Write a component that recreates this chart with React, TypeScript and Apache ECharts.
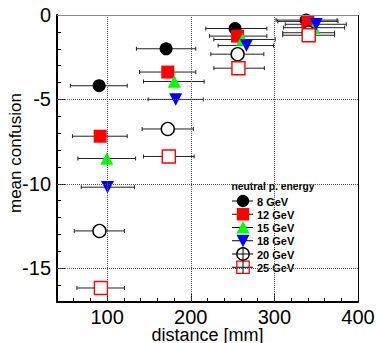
import React, { useEffect, useRef } from "react";
import * as echarts from "echarts";

// ---- data ----
const energies = ["8 GeV", "12 GeV", "15 GeV", "18 GeV", "20 GeV", "25 GeV"];

const dist8 = [90.4, 170.5, 253, 338];
const conf8 = [-4.19, -2.0, -0.8, -0.3];
const lo8 = [56, 135, 218, 302];
const hi8 = [124, 206, 291, 375];

const dist12 = [91.6, 172.5, 256, 340];
const conf12 = [-7.18, -3.38, -1.25, -0.38];
const lo12 = [58.5, 138.6, 222.5, 304];
const hi12 = [124, 206, 291, 376];

const dist15 = [99.6, 180.4, 262, 347];
const conf15 = [-8.5, -3.94, -1.45, -0.75];
const lo15 = [65, 143.4, 227.6, 311];
const hi15 = [134, 216, 301, 384];

const dist18 = [100.4, 182, 266.6, 350];
const conf18 = [-10.2, -5.0, -1.81, -0.55];
const lo18 = [69, 149, 232.7, 313];
const hi18 = [132.6, 215, 299, 386];

const dist20 = [90.8, 172.5, 256, 341];
const conf20 = [-12.79, -6.75, -2.32, -1.05];
const lo20 = [60.6, 141.8, 224, 310];
const hi20 = [120.7, 203, 287.4, 372];

const dist25 = [92.5, 173.7, 257, 341];
const conf25 = [-16.17, -8.38, -3.15, -1.2];
const lo25 = [63.8, 143.4, 227.6, 310];
const hi25 = [120.7, 204, 288, 372];

const xTickLabels = [100, 200, 300, 400];
const yTickLabels = [0, -5, -10, -15];
const xGridValues = [100, 200, 300];
const yGridValues = [-5, -10, -15];

const legendTitle = "neutral p. energy";
const xTitle = "distance [mm]";
const yTitle = "mean confusion";

// ---- styles ----
const FONT = "'Liberation Sans', Arial, sans-serif";
const markerStyles = [
  { symbol: "circle", rotate: 0, fill: "#000000", stroke: "#000000", open: false },
  { symbol: "rect", rotate: 0, fill: "#ff0000", stroke: "#ff0000", open: false },
  { symbol: "triangle", rotate: 0, fill: "#00ff00", stroke: "#00ff00", open: false },
  { symbol: "triangle", rotate: 180, fill: "#0000ff", stroke: "#0000ff", open: false },
  { symbol: "circle", rotate: 0, fill: "#ffffff", stroke: "#000000", open: true },
  { symbol: "rect", rotate: 0, fill: "#ffffff", stroke: "#ff0000", open: true },
];

const groups = [
  { x: dist8, y: conf8, lo: lo8, hi: hi8 },
  { x: dist12, y: conf12, lo: lo12, hi: hi12 },
  { x: dist15, y: conf15, lo: lo15, hi: hi15 },
  { x: dist18, y: conf18, lo: lo18, hi: hi18 },
  { x: dist20, y: conf20, lo: lo20, hi: hi20 },
  { x: dist25, y: conf25, lo: lo25, hi: hi25 },
];

function buildLegend(): any[] {
  const children: any[] = [];
  children.push({
    type: "rect",
    shape: { x: 227, y: 176, width: 116, height: 109 },
    style: { fill: "#ffffff" },
  });
  children.push({
    type: "text",
    x: 231.5,
    y: 186,
    style: {
      text: legendTitle,
      fontSize: 10.3,
      fontWeight: "bold",
      fontFamily: FONT,
      fill: "#000",
      align: "left",
      verticalAlign: "middle",
    },
  });
  energies.forEach((name, i) => {
    const yc = 201 + i * 13.25;
    const cx = 243;
    const s = markerStyles[i];
    const lineSt = { stroke: "#000", lineWidth: 1 };
    children.push({ type: "line", shape: { x1: 232, y1: yc, x2: 253, y2: yc }, style: lineSt });
    const mst = { fill: s.fill, stroke: s.stroke, lineWidth: s.open ? 1.3 : 0 };
    if (s.symbol === "circle") {
      children.push({ type: "circle", shape: { cx, cy: yc, r: 6.2 }, style: mst });
    } else if (s.symbol === "rect") {
      children.push({ type: "rect", shape: { x: cx - 6.2, y: yc - 6.2, width: 12.4, height: 12.4 }, style: mst });
    } else if (s.rotate === 0) {
      children.push({
        type: "polygon",
        shape: { points: [[cx, yc - 6.5], [cx + 6.5, yc + 6], [cx - 6.5, yc + 6]] },
        style: mst,
      });
    } else {
      children.push({
        type: "polygon",
        shape: { points: [[cx, yc + 6.5], [cx + 6.5, yc - 6], [cx - 6.5, yc - 6]] },
        style: mst,
      });
    }
    if (s.open) {
      children.push({ type: "line", shape: { x1: cx - 6, y1: yc, x2: cx + 6, y2: yc }, style: lineSt });
      children.push({ type: "line", shape: { x1: cx, y1: yc - 6.5, x2: cx, y2: yc + 6.5 }, style: lineSt });
    }
    children.push({
      type: "text",
      x: 257,
      y: yc + 0.5,
      style: {
        text: name,
        fontSize: 11,
        fontWeight: "bold",
        fontFamily: FONT,
        fill: "#000",
        align: "left",
        verticalAlign: "middle",
      },
    });
  });
  return children;
}

export default function App() {
  const ref = useRef<HTMLDivElement>(null);

  useEffect(() => {
    if (!ref.current) return;
    const chart = echarts.init(ref.current, null, { renderer: "svg" });

    const series: any[] = [];
    // grid lines and frame
    series.push({
      type: "scatter",
      data: [],
      xAxisIndex: 0,
      yAxisIndex: 0,
      silent: true,
      markLine: {
        silent: true,
        symbol: "none",
        label: { show: false },
        animation: false,
        lineStyle: { type: [1, 1], color: "#555", width: 1 },
        data: [
          ...xGridValues.map((v) => ({ xAxis: v })),
          ...yGridValues.map((v) => ({ yAxis: v })),
          { yAxis: 0, lineStyle: { type: "solid", color: "#888", width: 1 } },
          { xAxis: 400, lineStyle: { type: "solid", color: "#000", width: 1 } },
        ],
      },
    });

    groups.forEach((g, k) => {
      const s = markerStyles[k];
      series.push({
        type: "custom",
        name: energies[k] + " err",
        xAxisIndex: 0,
        yAxisIndex: 0,
        silent: true,
        encode: { x: [0, 2, 3], y: 1 },
        data: g.x.map((v, i) => [v, g.y[i], g.lo[i], g.hi[i]]),
        renderItem: (params: any, api: any) => {
          const yv = api.value(1);
          const a = api.coord([api.value(2), yv]);
          const b = api.coord([api.value(3), yv]);
          const st = { stroke: "#222", lineWidth: 1 };
          return {
            type: "group",
            children: [
              { type: "line", shape: { x1: a[0], y1: a[1], x2: b[0], y2: b[1] }, style: st },
              { type: "line", shape: { x1: a[0], y1: a[1] - 2, x2: a[0], y2: a[1] + 2 }, style: st },
              { type: "line", shape: { x1: b[0], y1: b[1] - 2, x2: b[0], y2: b[1] + 2 }, style: st },
            ],
          };
        },
      });
      series.push({
        type: "scatter",
        name: energies[k],
        xAxisIndex: 0,
        yAxisIndex: 0,
        symbol: s.symbol,
        symbolRotate: s.rotate,
        symbolSize: s.symbol === "triangle" ? [13, 12.5] : 13,
        itemStyle: {
          color: s.fill,
          borderColor: s.stroke,
          borderWidth: s.open ? 1.4 : 0,
          opacity: 1,
        },
        emphasis: { disabled: true },
        data: g.x.map((v, i) => [v, g.y[i]]),
      });
    });

    const axisText = { fontSize: 20, color: "#000", fontFamily: FONT };

    chart.setOption({
      animation: false,
      grid: { left: 57, right: 18, top: 15, bottom: 41, containLabel: false, outerBoundsMode: "none" },
      xAxis: [
        {
          type: "value",
          min: 40,
          max: 400,
          interval: 20,
          position: "bottom",
          axisLine: { show: true, onZero: false, lineStyle: { color: "#000", width: 2 } },
          axisTick: { show: true, inside: true, length: 4, lineStyle: { color: "#000", width: 1 } },
          axisLabel: { show: false },
          splitLine: { show: false },
        },
        {
          type: "value",
          min: 40,
          max: 400,
          position: "bottom",
          offset: 0,
          axisLine: { show: false, onZero: false },
          axisTick: {
            show: true,
            inside: true,
            length: 8,
            customValues: xTickLabels,
            lineStyle: { color: "#000", width: 1 },
          },
          axisLabel: { customValues: xTickLabels, margin: 7, lineHeight: 16, ...axisText },
          splitLine: { show: false },
        },
      ],
      yAxis: [
        {
          type: "value",
          min: -17,
          max: 0,
          interval: 1,
          position: "left",
          axisLine: { show: true, onZero: false, lineStyle: { color: "#000", width: 2 } },
          axisTick: { show: true, inside: true, length: 4, lineStyle: { color: "#000", width: 1 } },
          axisLabel: { show: false },
          splitLine: { show: false },
        },
        {
          type: "value",
          min: -17,
          max: 0,
          position: "left",
          offset: 0,
          axisLine: { show: false, onZero: false },
          axisTick: {
            show: true,
            inside: true,
            length: 8,
            customValues: yTickLabels,
            lineStyle: { color: "#000", width: 1 },
          },
          axisLabel: { customValues: yTickLabels, margin: 6, ...axisText },
          splitLine: { show: false },
        },
      ],
      graphic: [
        {
          type: "text",
          x: 15,
          y: 153,
          rotation: Math.PI / 2,
          style: {
            text: yTitle,
            fontSize: 17,
            fontFamily: FONT,
            fill: "#000",
            align: "center",
            verticalAlign: "middle",
          },
        },
        {
          type: "text",
          x: 207.5,
          y: 334.5,
          style: {
            text: xTitle,
            fontSize: 18,
            lineHeight: 15,
            fontFamily: FONT,
            fill: "#000",
            align: "center",
            verticalAlign: "middle",
          },
        },
        { type: "group", children: buildLegend() },
      ],
      series,
    });

    return () => chart.dispose();
  }, []);

  return (
    <div
      ref={ref}
      style={{ position: "fixed", left: 0, top: 0, width: 376, height: 343, background: "#fff" }}
    />
  );
}
